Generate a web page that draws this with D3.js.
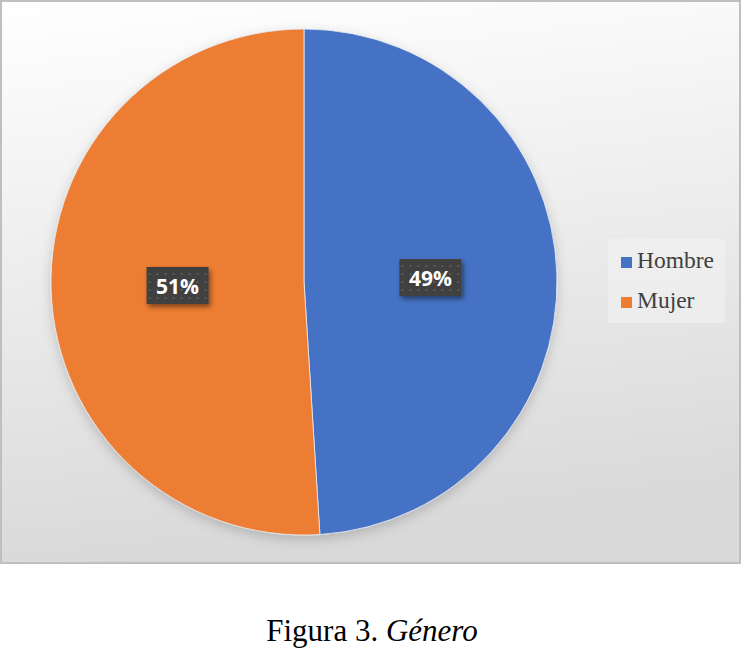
<!DOCTYPE html>
<html>
<head>
<meta charset="utf-8">
<script src="https://cdn.jsdelivr.net/npm/d3@7"></script>
<style>
  body { margin: 0; background: #ffffff; }
</style>
</head>
<body>
<script>
let categories = ['Hombre', 'Mujer']
let values = [49, 51]
let colors = ['#4472C4', '#ED7D31']
let caption = 'Figura 3. '
let captionItalic = 'Género'

let width = 742, height = 659
let frame = { x: 1, y: 1, w: 739, h: 562 }
let cx = 304, cy = 282, radius = 253

let svg = d3.select('body').append('svg')
    .attr('width', width)
    .attr('height', height)

let defs = svg.append('defs')

// background gradient of the chart area
let grad = defs.append('linearGradient')
    .attr('id', 'bg')
    .attr('x1', 0).attr('y1', 0).attr('x2', 0.15).attr('y2', 1)
grad.append('stop').attr('offset', '0%').attr('stop-color', '#ffffff')
grad.append('stop').attr('offset', '100%').attr('stop-color', '#d9d9d9')

// dotted pattern for the label boxes
let pat = defs.append('pattern')
    .attr('id', 'dots')
    .attr('width', 8).attr('height', 8)
    .attr('patternUnits', 'userSpaceOnUse')
pat.append('rect').attr('width', 8).attr('height', 8).attr('fill', '#404040')
pat.append('rect').attr('x', 3).attr('y', 3).attr('width', 2).attr('height', 2).attr('fill', '#5a5a5a')

let shadow = defs.append('filter').attr('id', 'shadow')
    .attr('x', '-20%').attr('y', '-20%').attr('width', '150%').attr('height', '160%')
shadow.append('feDropShadow')
    .attr('dx', 2).attr('dy', 3).attr('stdDeviation', 2.5)
    .attr('flood-color', '#000').attr('flood-opacity', 0.45)

let pieShadow = defs.append('filter').attr('id', 'pieShadow')
    .attr('x', '-10%').attr('y', '-10%').attr('width', '120%').attr('height', '125%')
pieShadow.append('feDropShadow')
    .attr('dx', 0).attr('dy', 4).attr('stdDeviation', 6)
    .attr('flood-color', '#000').attr('flood-opacity', 0.18)

svg.append('rect')
    .attr('x', frame.x).attr('y', frame.y)
    .attr('width', frame.w).attr('height', frame.h)
    .attr('fill', 'url(#bg)')
    .attr('stroke', '#bfbfbf')
    .attr('stroke-width', 2)

// legend background
svg.append('rect')
    .attr('x', 608).attr('y', 239)
    .attr('width', 117).attr('height', 84)
    .attr('fill', '#f2f2f2')
    .attr('fill-opacity', 0.6)

let pie = d3.pie().sort(null).value(function (d) { return d })
let arcs = pie(values)

let arc = d3.arc().innerRadius(0).outerRadius(radius)

let g = svg.append('g')
    .attr('transform', 'translate(' + cx + ',' + cy + ')')

g.append('g')
    .attr('filter', 'url(#pieShadow)')
    .selectAll('path')
    .data(arcs)
    .enter().append('path')
    .attr('d', arc)
    .attr('fill', function (d, i) { return colors[i] })
    .attr('stroke', '#e8ecf5')
    .attr('stroke-width', 0.8)

// data labels
let labels = g.selectAll('.lbl')
    .data(arcs)
    .enter().append('g')
    .attr('class', 'lbl')
    .attr('transform', function (d) {
        let c = arc.centroid(d)
        return 'translate(' + c[0] + ',' + c[1] + ')'
    })

labels.append('rect')
    .attr('x', -31).attr('y', -19)
    .attr('width', 62).attr('height', 37)
    .attr('fill', 'url(#dots)')
    .attr('filter', 'url(#shadow)')

labels.append('text')
    .attr('text-anchor', 'middle')
    .attr('dy', '0.36em')
    .attr('fill', '#ffffff')
    .style('font-family', '"Open Sans", sans-serif')
    .style('font-weight', 'bold')
    .style('font-size', '21px')
    .text(function (d, i) { return values[i] + '%' })

// legend
let legend = svg.append('g')

let item = legend.selectAll('.item')
    .data(categories)
    .enter().append('g')
    .attr('class', 'item')
    .attr('transform', function (d, i) { return 'translate(621,' + (257 + i * 40) + ')' })

item.append('rect')
    .attr('width', 11).attr('height', 11)
    .attr('fill', function (d, i) { return colors[i] })

item.append('text')
    .attr('x', 16).attr('y', 10.5)
    .attr('fill', '#404040')
    .style('font-family', '"Liberation Serif", "Times New Roman", serif')
    .style('font-size', '23.5px')
    .text(function (d) { return d })

// caption
let cap = svg.append('text')
    .attr('x', 372).attr('y', 641)
    .attr('text-anchor', 'middle')
    .attr('fill', '#000')
    .style('font-family', '"Liberation Serif", "Times New Roman", serif')
    .style('font-size', '31px')
cap.append('tspan').text(caption)
cap.append('tspan').style('font-style', 'italic').text(captionItalic)
</script>
</body>
</html>
